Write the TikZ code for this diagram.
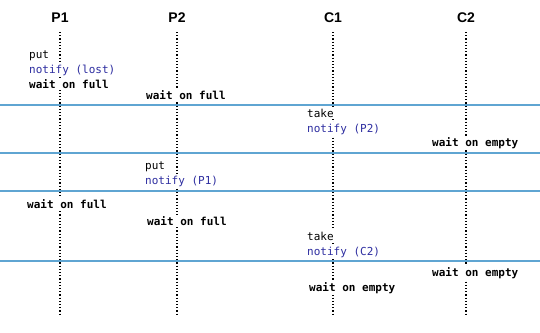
\documentclass[tikz,border=0pt]{standalone}
\usepackage{fontspec}
\setmainfont{Liberation Sans}
\setmonofont{DejaVu Sans Mono}
\usetikzlibrary{positioning}
\definecolor{sepblue}{RGB}{95,165,210}
\definecolor{msgblue}{RGB}{45,45,160}
\tikzset{
  head/.style={anchor=base,inner sep=0pt,font=\rmfamily\bfseries\fontsize{14}{16}\selectfont},
  msg/.style={anchor=base west,fill=white,inner sep=1.5pt,xshift=-1.5pt,font=\ttfamily\fontsize{11}{13}\selectfont},
  waitmsg/.style={msg,font=\ttfamily\bfseries\fontsize{11}{13}\selectfont},
  notemsg/.style={msg,text=msgblue},
  life/.style={line width=1.2pt,dash pattern=on 1.2pt off 2pt},
  sepline/.style={draw=sepblue,line width=1.1pt}
}
\begin{document}
\begin{tikzpicture}[x=1pt,y=-1pt]
  \useasboundingbox (0,0) rectangle (540,332);
  % 分隔线
  \foreach \name/\y in {s1/105,s2/153,s3/191,s4/261} {
    \coordinate (\name l) at (0,\y);
    \coordinate (\name r) at (540,\y);
    \draw[sepline] (\name l) -- (\name r);
  }
  % 线程
  \foreach \name/\x in {P1/60,P2/177,C1/333,C2/466} {
    \node[head] (\name) at (\x,22) {\name};
    \coordinate (\name top) at (\x,32);
    \coordinate (\name bot) at (\x,316);
    \draw[life] (\name top) -- (\name bot);
  }
  % 第一段
  \node[msg] (put1) at (29,58) {put};
  \node[notemsg] (lost) at (29,73) {notify (lost)};
  \node[waitmsg] (wfa) at (29,88) {wait on full};
  \node[waitmsg] (wfb) at (146,99) {wait on full};
  % 第二段
  \node[msg] (take1) at (307,117) {take};
  \node[notemsg] (np2) at (307,132) {notify (P2)};
  \node[waitmsg] (wea) at (432,146) {wait on empty};
  % 第三段
  \node[msg] (put2) at (145,169) {put};
  \node[notemsg] (np1) at (145,184) {notify (P1)};
  % 第四段
  \node[waitmsg] (wfc) at (27,208) {wait on full};
  \node[waitmsg] (wfd) at (147,225) {wait on full};
  \node[msg] (take2) at (307,240) {take};
  \node[notemsg] (nc2) at (307,255) {notify (C2)};
  % 第五段
  \node[waitmsg] (web) at (432,276) {wait on empty};
  \node[waitmsg] (wec) at (309,291) {wait on empty};
\end{tikzpicture}
\end{document}
